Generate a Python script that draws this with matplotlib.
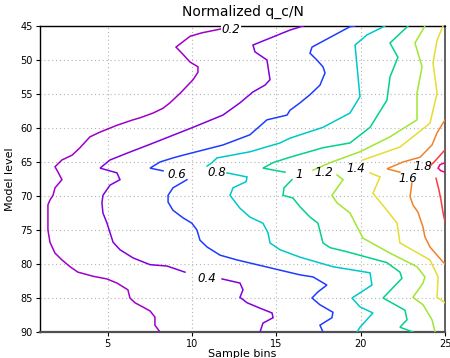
import numpy as np
import matplotlib
matplotlib.use("Agg")
import matplotlib.pyplot as plt

nan = np.nan

# contour levels and their GrADS-like colours
levels = [0.2, 0.4, 0.6, 0.8, 1.0, 1.2, 1.4, 1.6, 1.8, 2.0]
level_labels = ["0.2", "0.4", "0.6", "0.8", "1", "1.2", "1.4", "1.6", "1.8", ""]
colors = ["#a000c8", "#8200dc", "#1e3cff", "#00c8c8", "#00d28c",
          "#a0e632", "#e6dc32", "#f08228", "#fa3c3c", "#f00082"]

# contour lines: (sample bin, model level); nan = label gap
c02_bin = [12.9, 11.79, 10.6, 9.9, 9.06, 9.41, 9.89, 10.36, 10.36, 10.07, 9.30, 8.70, 8.29, 7.70, 6.93,
           6.51, 5.56, 4.56, 3.96, 3.37, 2.90, 2.30, 1.89, 2.07, 2.30, 1.89, 1.77, 1.59, 1.47, 1.47,
           1.59, 1.89, 2.30, 2.78, 3.25, 4.14, 4.97, 5.56, 6.21, 6.33, 6.63, 7.52, 7.81, 7.81, 8.11]
c02_lev = [45.0, 45.4, 46.0, 46.5, 48.1, 49.0, 50.3, 51.0, 51.8, 52.9, 54.9, 56.3, 57.1, 57.8, 58.5,
           58.8, 59.6, 60.6, 61.3, 62.9, 64.0, 64.7, 65.7, 66.5, 67.6, 68.8, 69.9, 70.6, 71.3, 75.0,
           76.8, 78.4, 79.4, 80.4, 81.2, 81.8, 82.2, 82.8, 83.8, 85.0, 85.7, 86.9, 87.8, 89.0, 90.0]

c04_bin = [16.59, 15.81, 13.62, 13.74, 14.45, 14.63, 14.33, 13.62, 12.85, 11.84, 10.07, 7.52, 6.16,
           5.15, 4.56, 5.56, 5.74, 5.15, 4.73, 4.67, 4.73, 4.97, 5.15, 5.33, 5.74, 6.51, 7.52, 8.53,
           9.59, nan, 11.79, 12.85, 13.03, 12.85, 13.27, 14.04, 14.75, 14.81, 14.21, 14.04]
c04_lev = [45.0, 45.6, 47.8, 48.8, 50.0, 52.9, 53.7, 54.7, 56.3, 58.1, 59.9, 62.4, 63.7,
           64.7, 65.9, 66.6, 67.6, 68.4, 69.9, 71.0, 72.5, 74.0, 75.4, 76.8, 77.9, 79.1, 80.1, 80.3,
           81.2, nan, 82.2, 82.8, 83.8, 84.9, 85.7, 86.5, 87.2, 87.9, 88.7, 90.0]

c06_bin = [19.67, 19.37, 17.12, 17.0, 17.41, 17.77, 17.89, 17.59, 17.0, 16.41, 15.81, 15.64, 14.45,
           13.44, 11.84, 9.47, 8.88, 8.11, 7.52, 8.29, nan, 9.71, 8.88, 8.59, 8.59, 8.88, 9.47, 10.0,
           10.30, 10.48, 10.90, 11.67, 12.67, 13.86, 15.22, 16.41, 17.18, 18.0, 17.47, 17.12, 17.59,
           18.36, 18.30, 17.59, 17.77]
c06_lev = [45.0, 45.1, 48.1, 49.0, 50.0, 51.0, 51.9, 53.7, 55.1, 56.3, 57.4, 58.1, 58.8,
           61.0, 62.5, 64.0, 64.4, 65.0, 65.9, 66.3, nan, 67.6, 68.8, 69.9, 70.9, 72.1, 73.2, 74.0,
           75.0, 76.5, 77.5, 78.7, 79.4, 80.1, 80.9, 81.6, 81.9, 83.1, 84.1, 85.0, 86.0,
           87.1, 87.9, 89.0, 90.0]

c08_bin = [21.44, 20.38, 19.67, 19.79, 19.96, 19.37, 17.77, 15.81, 15.22, 13.44, 11.49, 11.19, 10.90,
           nan, 12.08, 13.27, 13.21, 12.44, 12.26, 12.85, 13.44, 14.21, 14.51, 14.63, 15.22, 16.41,
           18.36, 20.56, 20.67, 19.49, 19.96, 20.73, 19.96, 19.79]
c08_lev = [45.0, 46.3, 47.8, 51.0, 55.4, 57.8, 59.9, 61.5, 62.2, 63.5, 64.4, 65.1, 65.6,
           nan, 66.6, 67.2, 67.9, 68.8, 69.9, 71.8, 73.1, 74.0, 75.4, 76.9, 77.9, 79.0,
           80.4, 81.3, 83.1, 85.0, 86.3, 87.2, 89.3, 90.0]

c10_bin = [22.81, 21.74, 22.21, 21.74, 21.56, 20.56, 19.37, 17.77, 15.81, 14.81, 14.21, 15.52, nan,
           15.93, 15.46, 15.40, 15.99, 16.41, 17.0, 17.47, 17.77, 18.19, 19.19, 21.56, 22.33, 22.45,
           21.33, 22.63, 22.75, 22.33, 23.10]
c10_lev = [45.0, 47.5, 49.6, 52.5, 55.9, 59.9, 62.2, 62.9, 64.3, 65.1, 65.9, 66.5, nan,
           67.6, 68.8, 69.9, 70.3, 71.6, 73.1, 74.0, 76.9, 77.6, 78.2, 79.8, 81.2, 82.1,
           85.0, 86.8, 88.2, 89.3, 90.0]

c12_bin = [23.81, 23.22, 23.64, 23.34, 23.34, 21.74, 19.96, 18.19, 17.18, nan, 18.60, 18.96, 18.30,
           18.60, 19.37, 20.14, 21.74, 23.34, 23.81, 23.70, 23.10, 23.70, 24.23, 24.41]
c12_lev = [45.0, 47.5, 51.0, 54.9, 58.8, 61.3, 63.5, 65.1, 66.2, nan, 66.9, 67.6, 69.9,
           71.0, 72.5, 76.2, 78.4, 80.4, 81.9, 82.8, 84.9, 86.0, 88.2, 90.0]

c14_bin = [24.88, 24.53, 24.29, 24.53, 24.11, 22.33, 20.14, nan, 20.56, 21.15, 21.03, 20.73, 21.56,
           22.16, 22.33, 24.11, 24.59, 24.53, 25.0]
c14_lev = [45.0, 47.1, 50.4, 54.9, 59.3, 62.8, 64.7, nan, 66.6, 67.2, 67.9, 69.6, 72.1,
           74.0, 76.9, 79.4, 81.9, 84.9, 85.7]

c16_bin = [25.0, 24.53, 24.23, 23.52, 22.51, 21.56, 22.33, nan, 23.04, 22.93, 23.10, 23.40, 23.70,
           23.81, 24.11, 24.88, 25.0]
c16_lev = [58.8, 60.7, 62.5, 64.3, 65.0, 66.0, 66.5, nan, 68.1, 70.1, 71.3, 72.4, 74.6,
           76.0, 77.5, 79.7, 80.0]

c18_bin = [25.0, 24.47, 24.11, nan, 24.47, 24.64, 24.76, 24.88, 25.0]
c18_lev = [63.2, 64.7, 65.6, nan, 67.4, 69.1, 70.6, 72.4, 73.8]

c20_bin = [25.0, 24.70, 24.59, 24.76, 25.0]
c20_lev = [65.1, 65.4, 65.9, 66.3, 66.5]

line_bins = [c02_bin, c04_bin, c06_bin, c08_bin, c10_bin, c12_bin, c14_bin, c16_bin, c18_bin, c20_bin]
line_levs = [c02_lev, c04_lev, c06_lev, c08_lev, c10_lev, c12_lev, c14_lev, c16_lev, c18_lev, c20_lev]

# where the inline contour labels sit (sample bin, model level)
label_bin = [12.3, 10.9, 9.12, 11.5, 16.35, 17.8, 19.7, 22.8, 23.7, nan]
label_lev = [45.5, 82.1, 66.8, 66.6, 66.9, 66.5, 65.9, 67.4, 65.7, nan]

xticks = [5, 10, 15, 20, 25]
yticks = [45, 50, 55, 60, 65, 70, 75, 80, 85, 90]

fig = plt.figure(figsize=(4.5, 3.58), dpi=100)
ax = fig.add_axes([40 / 450, 1 - 332 / 358, 405 / 450, 306 / 358])

for b, l, c in zip(line_bins, line_levs, colors):
    ax.plot(b, l, color=c, lw=1.1, solid_joinstyle="miter", zorder=3)

for lb, lx, ly, c in zip(level_labels, label_bin, label_lev, colors):
    if lb:
        t = ax.text(lx, ly, lb, ha="center", va="center", fontsize=8.5, style="italic",
                    color="black", zorder=4, clip_on=False)
        if lb == "0.2":
            t.set_bbox(dict(facecolor="white", edgecolor="none", pad=0.5))

ax.set_xlim(1, 25)
ax.set_ylim(90, 45)
ax.set_xticks(xticks)
ax.set_yticks(yticks)
ax.tick_params(axis="both", labelsize=7, length=3, width=0.8, pad=2, direction="out")
ax.grid(True, color="#b4b4b4", linestyle=(0, (1, 2.5)), lw=0.8)
for s in ax.spines.values():
    s.set_color("black")
    s.set_linewidth(1.0)
ax.spines["bottom"].set_color("#505050")
ax.spines["bottom"].set_linewidth(1.6)
ax.spines["right"].set_color("#606060")
ax.spines["right"].set_linewidth(1.4)

ax.set_title("Normalized q_c/N", fontsize=10, pad=7)
ax.set_xlabel("Sample bins", fontsize=8, labelpad=0)
ax.set_ylabel("Model level", fontsize=8, labelpad=4)

fig.savefig("out.png", dpi=100)
